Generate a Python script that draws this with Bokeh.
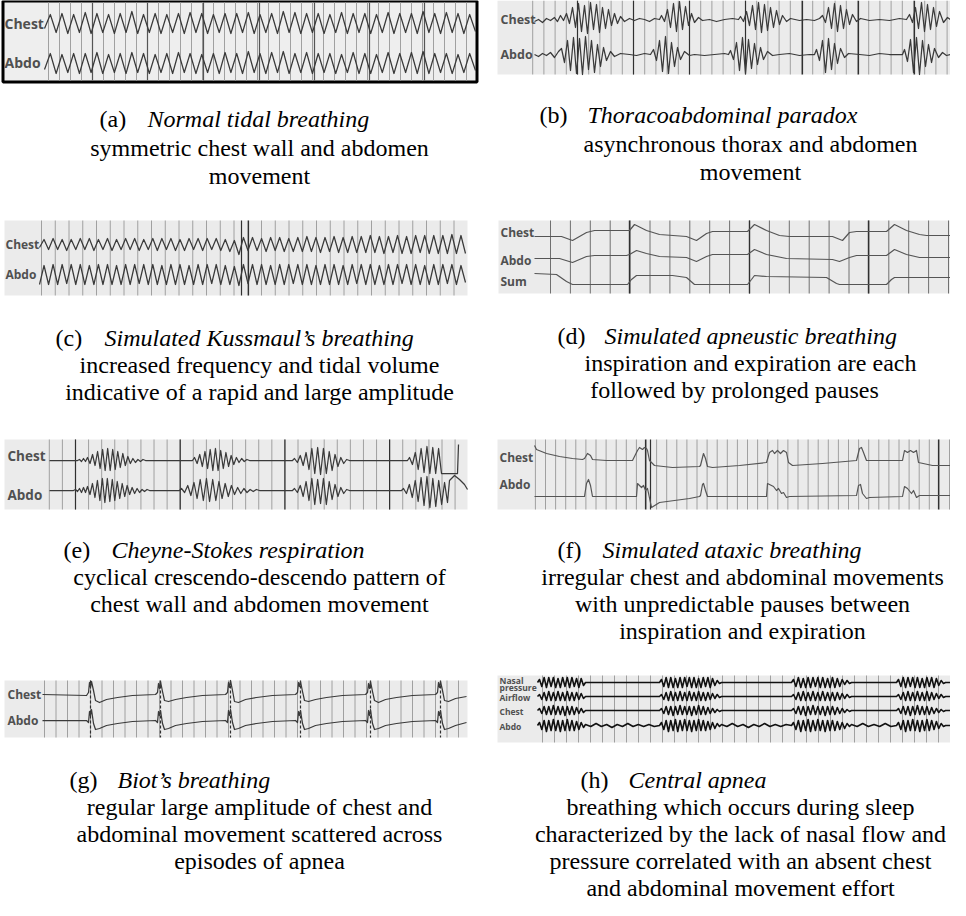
import numpy as np
from bokeh.plotting import figure
from bokeh.models import Range1d
from bokeh.embed import file_html
from bokeh.resources import INLINE
from bokeh.core.properties import value

# ------------------------------------------------------------------ captions
cap_labels = ["(a)", "(b)", "(c)", "(d)", "(e)", "(f)", "(g)", "(h)"]
cap_titles = ["Normal tidal breathing", "Thoracoabdominal paradox",
              "Simulated Kussmaul\u2019s breathing", "Simulated apneustic breathing",
              "Cheyne-Stokes respiration", "Simulated ataxic breathing",
              "Biot\u2019s breathing", "Central apnea"]
cap_lines = [
    ["symmetric chest wall and abdomen", "movement"],
    ["asynchronous thorax and abdomen", "movement"],
    ["increased frequency and tidal volume", "indicative of a rapid and large amplitude"],
    ["inspiration and expiration are each", "followed by prolonged pauses"],
    ["cyclical crescendo-descendo pattern of", "chest wall and abdomen movement"],
    ["irregular chest and abdominal movements", "with unpredictable pauses between",
     "inspiration and expiration"],
    ["regular large amplitude of chest and", "abdominal movement scattered across",
     "episodes of apnea"],
    ["breathing which occurs during sleep", "characterized by the lack of nasal flow and",
     "pressure correlated with an absent chest", "and abdominal movement effort"],
]

# ------------------------------------------------------------------ waveform data
# (a) alternating trough / peak amplitudes (px units)
a_chest = [-5, 9, -9, 10, -10, 9, -9, 11, -10, 10, -9, 9, -10, 10, -9, 12, -10, 9, -9, 10,
           -10, 9, -9, 10, -10, 11, -9, 10, -10, 9, -9, 10, -10, 10, -9, 11, -10, 9, -9, 10,
           -10, 12, -9, 11, -10, 10, -9, 10, -10, 9, -9, 11, -10, 10, -9, 10, -10, 9, -9, 11,
           -10, 10, -9, 10, -10, 12, -9, 10, -10, 11, -9, 10, -10, 9, -8]
a_abdo = [-6, 10, -10, 9, -9, 10, -10, 10, -9, 11, -10, 9, -9, 10, -10, 11, -9, 10, -10, 9,
          -9, 10, -10, 11, -9, 10, -10, 9, -9, 10, -10, 11, -9, 10, -10, 12, -9, 10, -10, 11,
          -9, 12, -10, 10, -9, 11, -10, 10, -9, 10, -10, 9, -9, 11, -10, 10, -10, 9, -9, 11,
          -10, 10, -9, 11, -10, 12, -10, 10, -9, 10, -10, 9, -9, 10, -7]

# (b) key points (t, v)
b_chest = [(0, -2), (4, 0), (8, -3), (12, 1), (16, -1), (20, 2), (23, -2), (26, 4), (29, -1), (32, 6),
           (35, -4), (38, 12), (41, -8), (44, 16), (47, -12), (50, 14), (53, -14), (56, 17), (59, -10),
           (62, 15), (65, -13), (68, 12), (71, -9), (74, 10), (77, -6), (80, 6), (83, -4), (86, 3),
           (90, -2), (95, 1), (100, -1), (105, 1), (110, 0), (115, -2), (120, 1), (125, 0),
           (127, 4), (130, -2), (133, 10), (136, -8), (139, 16), (142, -12), (145, 18), (148, -10),
           (151, 13), (154, -6), (157, 6), (160, -3), (164, 2), (168, -1), (175, 0), (182, -2),
           (190, 0), (198, 1), (204, 0), (206, 3), (209, -2), (212, 8), (215, -6), (218, 14),
           (221, -10), (224, 17), (227, -13), (230, 15), (233, -11), (236, 12), (239, -8), (242, 9),
           (245, -5), (248, 4), (252, -2), (256, 1), (265, -1), (272, 0), (280, -1), (285, 1),
           (288, 4), (291, -3), (294, 12), (297, -9), (300, 16), (303, -12), (306, 14), (309, -9),
           (312, 10), (315, -5), (318, 5), (322, -2), (326, 1), (335, -1), (345, 0), (355, -1),
           (365, 1), (372, 0), (375, 5), (378, -3), (381, 12), (384, -9), (387, 17), (390, -12),
           (393, 15), (396, -10), (399, 12), (402, -7), (405, 8), (409, -3), (413, 2), (416, 0)]
b_abdo = [(0, 0), (4, -2), (8, 1), (12, -1), (16, 2), (20, -3), (24, 3), (27, 6), (30, -8), (33, 14),
          (36, -16), (39, 17), (42, -19), (45, 16), (48, -20), (51, 18), (54, -15), (57, 14), (60, -18),
          (63, 10), (66, -12), (69, 7), (72, -6), (76, 3), (80, -2), (86, 1), (95, 0), (102, -1),
          (110, 1), (116, 0), (119, 5), (122, -6), (125, 14), (128, -17), (131, 18), (134, -19),
          (137, 12), (140, -12), (143, 7), (146, -5), (150, 3), (155, -1), (160, 0), (170, -1),
          (180, 0), (190, 1), (194, 0), (196, 4), (199, -5), (202, 12), (205, -16), (208, 17),
          (211, -19), (214, 15), (217, -14), (220, 11), (223, -10), (226, 7), (229, -5), (233, 3),
          (238, -1), (245, 0), (255, 1), (265, -1), (275, 0), (280, 0), (282, 5), (285, -6),
          (288, 14), (291, -18), (294, 16), (297, -15), (300, 11), (303, -9), (306, 6), (310, -3),
          (314, 1), (325, 0), (335, -1), (345, 1), (355, 0), (368, 0), (370, 5), (373, -7),
          (376, 15), (379, -18), (382, 17), (385, -20), (388, 14), (391, -12), (394, 10), (397, -8),
          (400, 6), (404, -3), (408, 2), (412, -1), (416, 0)]

# (c) alternating trough / peak amplitudes
c_chest = [-3, 5, -5, 6, -5, 5, -6, 5, -5, 6, -5, 6, -6, 5, -5, 6, -6, 5, -5, 6, -5, 6, -6, 5,
           -5, 6, -6, 6, -5, 6, -6, 5, -6, 6, -5, 6, -6, 6, -5, 6, -6, 5, -7, 4, -10, 7, -6, 7,
           -6, 6, -7, 7, -6, 7, -7, 6, -7, 7, -7, 8, -7, 7, -8, 7, -7, 8, -8, 7, -8, 8, -8, 8,
           -8, 9, -8, 8, -9, 8, -8, 9, -9, 8, -9, 9, -8, 9, -9, 9, -9, 9, -9, 10, -9, 9, -9]
c_abdo = [-10, 9, -10, 10, -10, 10, -9, 10, -10, 10, -10, 9, -10, 10, -10, 10, -10, 9, -10, 10,
          -10, 10, -9, 10, -10, 10, -10, 9, -10, 10, -10, 10, -10, 9, -10, 10, -10, 10, -9, 10,
          -10, 9, -10, 8, -11, 10, -9, 10, -10, 10, -10, 9, -10, 10, -10, 10, -9, 10, -10, 10,
          -10, 9, -10, 10, -10, 10, -10, 9, -10, 10, -9, 10, -10, 10, -10, 9, -10, 10, -10, 10,
          -9, 10, -10, 10, -10, 9, -10, 10, -10, 10, -9, 10, -10, 9, -8]

# (d) key points (t, v)
d_chest = [(0, 0), (27, 0), (38, -4), (52, 4), (60, 6), (92, 6), (95, 6), (100, 12), (112, 6),
           (125, 2), (152, 0), (162, -4), (172, 3), (178, 5), (213, 5), (220, 12), (232, 6),
           (245, 1), (255, 0), (298, 0), (308, -4), (315, 4), (322, 5), (352, 5), (360, 12),
           (372, 6), (385, 2), (392, 1), (424, 1)]
d_abdo = [(0, 0), (25, 0), (38, -4), (52, 2), (60, 3), (92, 3), (95, 4), (102, 8), (112, 5),
          (125, 2), (152, 1), (162, -3), (172, 2), (178, 4), (213, 4), (220, 9), (232, 4),
          (252, 0), (298, -1), (305, -3), (315, 1), (322, 3), (352, 3), (360, 9), (372, 4),
          (385, 1), (424, 1)]
d_sum = [(0, 6), (22, 5), (32, -2), (38, -5), (93, -5), (97, 0), (102, 4), (138, 4), (152, 2),
         (160, -5), (213, -5), (217, 0), (220, 4), (232, 3), (292, 2), (302, -4), (305, -5),
         (352, -5), (357, 0), (360, 2), (424, 2)]

# (e) pieces: ("k", key points) or ("b", t0, t1, alternating extrema)
e_chest = [("k", [(0, 0), (28, 0)]),
           ("b", 30, 36, [1, -1, 2, -1]),
           ("b", 38, 96, [3, -3, 6, -5, 9, -8, 11, -10, 12, -10, 11, -9, 9, -7, 7, -5, 4, -3, 2, -2, 1, -1, 1, 0]),
           ("k", [(143, 0)]),
           ("b", 145, 200, [3, -3, 6, -6, 9, -8, 11, -10, 12, -10, 10, -8, 8, -6, 5, -4, 3, -2, 2, -1, 1, 0]),
           ("k", [(243, 0)]),
           ("b", 245, 300, [2, -2, 5, -5, 8, -9, 12, -13, 13, -14, 12, -13, 9, -10, 6, -6, 3, -3, 1, 0]),
           ("k", [(358, 0)]),
           ("b", 360, 392, [3, -4, 8, -9, 12, -12, 14, -13, 13, -13, 12, -13]),
           ("k", [(408, -13), (409, 16)])]
e_abdo = [("k", [(0, 0), (24, 0)]),
          ("b", 26, 36, [1, -1, 2, -2, 3, -2]),
          ("b", 38, 100, [4, -4, 7, -7, 10, -10, 12, -12, 12, -11, 11, -10, 9, -8, 7, -6, 5, -4, 3, -3, 2, -2, 1, -1, 1, 0]),
          ("k", [(130, 0)]),
          ("b", 132, 210, [2, -2, 5, -5, 8, -8, 11, -10, 12, -11, 11, -10, 9, -8, 7, -6, 5, -4, 3, -3, 2, -2, 1, -1, 1, 0]),
          ("k", [(243, 0)]),
          ("b", 245, 300, [2, -2, 5, -6, 9, -10, 12, -14, 11, -13, 12, -14, 9, -9, 6, -6, 3, -3, 1, 0]),
          ("k", [(352, 0)]),
          ("b", 354, 398, [2, -3, 6, -7, 10, -11, 13, -15, 14, -17, 12, -16, 10, -14, 8, -12]),
          ("k", [(400, 10), (405, 15), (410, 11), (415, 6), (418, 1)])]

# (f) key points
f_chest = [(0, 15), (2, 11), (12, 7), (25, 4), (38, 2), (48, 1), (50, 2), (53, 7), (56, 5), (58, 1),
           (72, 0), (98, 0), (103, 10), (105, 13), (108, 11), (110, 13), (112, 12), (113, 10),
           (115, 0), (120, -5), (138, -7), (165, -6), (166, -5), (168, 3), (169, 7), (171, 2),
           (173, -6), (178, -7), (205, -5), (232, -2), (235, 8), (238, 10), (240, 7), (243, 10),
           (246, 7), (249, 10), (252, 8), (254, -2), (258, -5), (288, -3), (322, 0), (325, 12),
           (327, 13), (329, 8), (332, 0), (368, 0), (370, 10), (373, 8), (376, 10), (379, 8),
           (382, 10), (384, -2), (398, -5), (424, -5)]
f_abdo = [(0, 0), (50, 0), (52, 13), (54, 17), (56, 11), (58, 0), (102, 0), (103, 13), (105, 11),
          (107, 9), (109, 11), (111, 6), (113, 8), (117, -11), (125, -6), (155, -2), (165, 0),
          (166, 1), (168, 12), (169, 13), (171, 6), (173, 0), (232, 0), (233, 13), (237, 11),
          (239, 10), (242, 6), (244, 8), (247, 3), (249, 4), (252, -1), (255, 0), (322, 1),
          (324, 11), (326, 12), (328, 3), (332, -2), (335, -1), (368, 0), (370, 10), (373, 8),
          (377, 3), (379, 6), (382, -1), (385, 1), (424, 1)]

# (g) key points
g_chest = [(0, 0), (44, -1), (46, 2), (47, 12), (48, 7), (49, 13), (51, 4), (53, -6), (57, -8), (64, -5),
           (75, -3), (90, -1), (113, 0), (115, 2), (116, 11), (117, 6), (118, 13), (120, 3), (122, -6),
           (126, -7), (133, -5), (144, -3), (160, -1), (183, 0), (185, 2), (186, 12), (187, 7), (188, 14),
           (190, 4), (192, -7), (196, -8), (203, -5), (214, -3), (230, -1), (253, 0), (255, 2), (256, 12),
           (257, 8), (258, 13), (260, 3), (262, -6), (266, -7), (273, -5), (284, -3), (300, -1), (323, 0),
           (325, 2), (326, 11), (327, 6), (328, 13), (330, 3), (332, -6), (336, -8), (343, -5), (354, -3),
           (370, -1), (393, 0), (395, 2), (396, 12), (397, 7), (398, 13), (400, 4), (402, -6), (406, -7),
           (413, -4), (424, -2)]
g_abdo = [(0, 0), (44, 0), (46, -2), (47, 9), (48, 5), (49, 11), (51, -3), (53, -9), (57, -8), (64, -5),
          (75, -3), (90, -1), (113, 0), (115, -2), (116, 9), (117, 5), (118, 10), (120, -3), (122, -9),
          (126, -8), (133, -5), (144, -3), (160, -1), (183, 0), (185, -2), (186, 10), (187, 5), (188, 11),
          (190, -2), (192, -9), (196, -8), (203, -5), (214, -3), (230, -1), (253, 0), (255, -2), (256, 9),
          (257, 5), (258, 10), (260, -3), (262, -9), (266, -8), (273, -5), (284, -3), (300, -1), (323, 0),
          (325, -2), (326, 10), (327, 5), (328, 11), (330, -3), (332, -9), (336, -8), (343, -5), (354, -3),
          (370, -1), (393, 0), (395, -2), (396, 9), (397, 5), (398, 10), (400, -3), (402, -9), (406, -8),
          (413, -5), (424, -2)]
g_events = [48, 118, 188, 258, 328, 398]

# (h) pieces
h_nasal = [("k", [(0, 0)]),
           ("b", 2, 46, [3, -4, 5, -5, 5, -4, 5, -5, 4, -5, 5, -4, 5, -5, 5, -4, 4, -5, 4, -3]),
           ("k", [(48, 0), (122, 0)]),
           ("b", 124, 182, [3, -4, 5, -5, 5, -5, 4, -5, 5, -5, 5, -4, 5, -5, 5, -5, 4, -5, 5, -4, 5, -5, 4, -3, 2, -1]),
           ("k", [(184, 0), (254, 0)]),
           ("b", 256, 312, [3, -4, 5, -5, 4, -5, 5, -5, 5, -4, 5, -5, 5, -5, 4, -5, 5, -5, 4, -4, 3, -2, 2, -1]),
           ("k", [(314, 0), (359, 0)]),
           ("b", 361, 406, [3, -4, 5, -5, 5, -4, 5, -5, 5, -5, 4, -5, 5, -4, 5, -5, 4, -3, 2, -1]),
           ("k", [(408, 0), (413, 0)])]
h_air = [("k", [(0, 0)]),
         ("b", 2, 46, [2, -3, 4, -4, 5, -4, 4, -4, 5, -4, 4, -4, 5, -4, 4, -4, 4, -3, 3, -2]),
         ("k", [(48, 0), (122, 0)]),
         ("b", 124, 182, [2, -3, 4, -4, 5, -4, 4, -4, 5, -4, 4, -4, 5, -4, 4, -4, 5, -4, 4, -4, 4, -3, 3, -2, 2, -1]),
         ("k", [(184, 0), (254, 0)]),
         ("b", 256, 312, [2, -3, 4, -4, 5, -4, 4, -4, 5, -4, 4, -4, 5, -4, 4, -4, 4, -4, 4, -3, 3, -2, 2, -1]),
         ("k", [(314, 0), (359, 0)]),
         ("b", 361, 406, [2, -3, 4, -4, 5, -4, 4, -4, 5, -4, 4, -4, 5, -4, 4, -3, 3, -2, 2, -1]),
         ("k", [(408, 0), (413, 0)])]
h_chest = [("k", [(0, 0)]),
           ("b", 2, 46, [2, -3, 4, -4, 4, -4, 5, -4, 4, -4, 4, -5, 4, -4, 4, -4, 3, -3, 2, -2]),
           ("k", [(48, 0), (122, 0)]),
           ("b", 124, 182, [2, -3, 4, -4, 4, -5, 4, -4, 5, -4, 4, -4, 4, -5, 4, -4, 5, -4, 4, -4, 3, -3, 2, -2, 1, -1]),
           ("k", [(184, 0), (254, 0)]),
           ("b", 256, 312, [2, -3, 4, -4, 4, -5, 4, -4, 5, -4, 4, -4, 4, -5, 4, -4, 4, -4, 3, -3, 2, -2, 1, -1]),
           ("k", [(314, 0), (359, 0)]),
           ("b", 361, 406, [2, -3, 4, -4, 4, -5, 4, -4, 5, -4, 4, -4, 4, -4, 3, -3, 2, -2, 1, -1]),
           ("k", [(408, 0), (413, 0)])]
h_abdo = [("k", [(0, 0)]),
          ("b", 2, 46, [3, -4, 5, -6, 5, -5, 6, -5, 5, -6, 5, -5, 6, -5, 5, -5, 4, -4, 3, -2]),
          ("b", 48, 122, [1, -1, 2, -1, 1, -2, 1, -1, 2, -1, 1, -1, 1, -1, 0]),
          ("b", 124, 182, [3, -4, 5, -6, 5, -5, 6, -6, 5, -5, 6, -5, 5, -6, 5, -5, 6, -5, 5, -5, 4, -4, 3, -3, 2, -1]),
          ("b", 184, 254, [1, -1, 2, -1, 1, -2, 1, -1, 2, -1, 1, -1, 1, 0]),
          ("b", 256, 312, [3, -4, 5, -6, 5, -5, 6, -6, 5, -5, 6, -5, 5, -6, 5, -5, 5, -5, 4, -4, 3, -3, 2, -1]),
          ("b", 314, 359, [1, -1, 2, -1, 1, -1, 2, -1, 0]),
          ("b", 361, 406, [3, -4, 5, -6, 5, -5, 6, -5, 5, -6, 5, -5, 6, -5, 5, -4, 4, -3, 2, -1]),
          ("k", [(408, 0), (413, 0)])]

# ------------------------------------------------------------------ figure
X0, Y0, W, H = 8, 8, 950, 900
p = figure(width=W, height=H, x_range=Range1d(X0, X0 + W), y_range=Range1d(Y0 + H, Y0),
           x_axis_location=None, y_axis_location=None, toolbar_location=None,
           output_backend="svg", min_border=0)
p.grid.visible = False
p.outline_line_color = None
p.background_fill_color = "white"
p.border_fill_color = "white"

TRACE = "#3a3a3a"
STRIP = "#ebebeb"
GRID_T = "#a0a0a0"
GRID_D = "#303030"

def pieces_to_tv(pieces):
    T, V = [], []
    for pc in pieces:
        if pc[0] == "k":
            for t, v in pc[1]:
                T.append(t)
                V.append(v)
        else:
            _, t0, t1, vals = pc
            T.extend(np.linspace(t0, t1, len(vals)).tolist())
            V.extend(vals)
    return T, V

def add_trace(name, t, v, xa, xb, ta, tb, yb, color=TRACE, lw=1.25):
    kx = (xb - xa) / (tb - ta)
    p.extra_x_ranges[name] = Range1d(ta + (X0 - xa) / kx, ta + (X0 + W - xa) / kx)
    p.extra_y_ranges[name] = Range1d(yb - (Y0 + H), yb - Y0)
    p.line(x=list(t), y=list(v), x_range_name=name, y_range_name=name,
           line_color=color, line_width=lw, line_join="round")

def vlines(xs, y0, y1, color, width, dash="solid"):
    xs = list(xs)
    p.segment(x0=xs, y0=[y0] * len(xs), x1=xs, y1=[y1] * len(xs),
              line_color=color, line_width=width, line_dash=dash)

def strip(l, r, t, b, border=None):
    if border:
        p.quad(left=l, right=r, top=t, bottom=b, fill_color="#eeeeee",
               line_color="black", line_width=3)
    else:
        p.quad(left=l, right=r, top=t, bottom=b, fill_color=STRIP, line_color=None)

def labels(xs, ys, texts, size):
    p.text(x=xs, y=ys, text=texts, text_font=value("Open Sans"), text_font_style="bold",
           text_font_size=size, text_color="#505050", text_baseline="middle", text_align="left")

# ---- (a)
strip(10.5, 484.5, 8.5, 89.5, border=True)
vlines(np.arange(56, 483, 11), 10, 88, GRID_T, 1)
vlines([100, 155, 211, 267, 322, 377, 432], 10, 88, "#555555", 1.2)
labels([12, 12], [31, 70], ["Chest", "Abdo"], "14px")
add_trace("a_c", range(len(a_chest)), a_chest, 52, 483, 0, len(a_chest) - 1, 31)
add_trace("a_a", range(len(a_abdo)), a_abdo, 52, 483, 0, len(a_abdo) - 1, 71)

# ---- (b)
strip(505, 958, 8, 82)
vlines(np.arange(540.2, 958, 11.2), 8, 82, GRID_T, 1)
vlines([585, 641, 697, 753, 810, 866, 922], 8, 82, GRID_D, 1.2)
labels([508, 508], [27, 62], ["Chest", "Abdo"], "12.5px")
bt, bv = zip(*b_chest)
add_trace("b_c", bt, bv, 542, 958, 0, 416, 27)
bt, bv = zip(*b_abdo)
add_trace("b_a", bt, bv, 542, 958, 0, 416, 62)

# ---- (c)
strip(12, 475, 228, 303)
vlines(np.arange(49, 474, 13.75), 228, 303, GRID_T, 1)
vlines([249, 256], 228, 303, GRID_D, 1.2)
labels([13, 13], [252, 282], ["Chest", "Abdo"], "12px")
add_trace("c_c", range(len(c_chest)), c_chest, 47, 473, 0, len(c_chest) - 1, 252)
add_trace("c_a", range(len(c_abdo)), c_abdo, 47, 473, 0, len(c_abdo) - 1, 282)

# ---- (d)
strip(506, 958, 228, 301)
vlines(np.arange(558, 958, 19.9), 228, 301, "#707070", 1)
vlines([637, 757, 876], 228, 301, GRID_D, 1.4)
labels([508, 508, 508], [240, 268, 289], ["Chest", "Abdo", "Sum"], "12px")
for nm, dat, yb in (("d_c", d_chest, 244), ("d_a", d_abdo, 266), ("d_s", d_sum, 287)):
    t, v = zip(*dat)
    add_trace(nm, t, v, 542, 966, 0, 424, yb, color="#555555", lw=1.2)

# ---- (e)
strip(12, 475, 447, 517)
vlines(np.arange(56.8, 474, 13.09), 447, 517, GRID_T, 1)
vlines([83, 187.7, 292.4, 397.1], 447, 517, GRID_D, 1.2)
labels([15, 15], [463, 502], ["Chest", "Abdo"], "13.5px")
t, v = pieces_to_tv(e_chest)
add_trace("e_c", t, v, 57, 475, 0, 418, 468)
t, v = pieces_to_tv(e_abdo)
add_trace("e_a", t, v, 57, 475, 0, 418, 498)

# ---- (f)
strip(505, 958, 447, 517)
vlines(np.arange(542.9, 958, 10.1), 447, 517, GRID_T, 1)
vlines([653, 658, 946], 447, 517, GRID_D, 1.2)
labels([507, 507], [465, 492], ["Chest", "Abdo"], "12px")
t, v = zip(*f_chest)
add_trace("f_c", t, v, 542, 966, 0, 424, 468, color="#555555", lw=1.2)
t, v = zip(*f_abdo)
add_trace("f_a", t, v, 542, 966, 0, 424, 504, color="#555555", lw=1.2)

# ---- (g)
strip(12, 475, 688, 745)
vlines(np.arange(52, 474, 11.5), 688, 745, GRID_T, 1)
vlines([50 + e for e in g_events], 688, 745, GRID_D, 1.2, dash="3 2")
labels([15, 15], [702, 728], ["Chest", "Abdo"], "12px")
t, v = zip(*g_chest)
add_trace("g_c", t, v, 50, 474, 0, 424, 702)
t, v = zip(*g_abdo)
add_trace("g_a", t, v, 50, 474, 0, 424, 728)

# ---- (h)
strip(505, 958, 683, 750)
vlines(np.arange(550, 958, 12), 683, 750, GRID_T, 1)
labels([507, 507, 507, 507, 507], [688, 695, 705, 719, 734],
       ["Nasal", "pressure", "Airflow", "Chest", "Abdo"], "8.5px")
for nm, dat, yb in (("h_n", h_nasal, 690), ("h_f", h_air, 704), ("h_c", h_chest, 718), ("h_a", h_abdo, 733)):
    t, v = pieces_to_tv(dat)
    add_trace(nm, t, v, 545, 958, 0, 413, yb, color="#111111", lw=1.6)

# ------------------------------------------------------------------ captions
head_lab_x = [107, 547, 63, 565, 71, 565, 77, 588]
head_tit_x = [155, 595, 112, 612, 119, 610, 125, 636]
head_y = [126, 122, 345, 343, 557, 557, 787, 787]
body_x = [[267, 267], [758, 758], [267, 267], [758, 742], [267, 267], [750, 750, 750],
          [267, 267, 267], [748, 748, 748, 748]]
LINE = 27
FONT = value("Liberation Serif")
p.text(x=head_lab_x, y=head_y, text=cap_labels, text_font=FONT, text_font_size="24px",
       text_color="black", text_align="left", text_baseline="alphabetic")
p.text(x=head_tit_x, y=head_y, text=cap_titles, text_font=FONT, text_font_size="24px",
       text_font_style="italic", text_color="black", text_align="left", text_baseline="alphabetic")
bx, by, bt = [], [], []
for i, lines in enumerate(cap_lines):
    for j, ln in enumerate(lines):
        bx.append(body_x[i][j])
        by.append(head_y[i] + 29 + j * 28 if i < 2 else head_y[i] + LINE * (j + 1))
        bt.append(ln)
p.text(x=bx, y=by, text=bt, text_font=FONT, text_font_size="24px", text_color="black",
       text_align="center", text_baseline="alphabetic")

open("out.html", "w").write(file_html(p, INLINE))
